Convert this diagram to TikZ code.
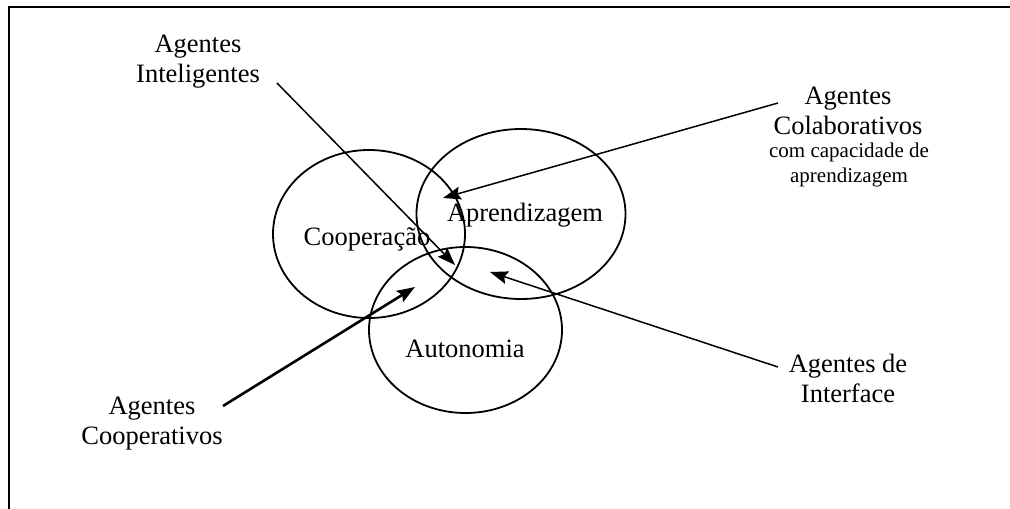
\documentclass[tikz,border=0pt]{standalone}
\usepackage{fontspec}
\setmainfont{Liberation Serif}
\usetikzlibrary{arrows.meta,shapes.geometric}
\begin{document}
\begin{tikzpicture}[x=1pt,y=-1pt,
  circ/.style={draw, ellipse, line width=1.8pt, inner sep=0pt},
  lbl/.style={font=\fontsize{26.5}{30}\selectfont, align=center, inner sep=0pt},
  smalllbl/.style={font=\fontsize{21}{25}\selectfont, align=center, inner sep=0pt},
  inlbl/.style={font=\fontsize{26.5}{30}\selectfont, inner sep=0pt, anchor=base},
  arr/.style={line width=1.5pt, -{Stealth[length=18pt,width=13pt,inset=3pt]}},
  frame/.style={line width=1.8pt}
]
\useasboundingbox (0,0) rectangle (1010,509);
% frame
\coordinate (fr1) at (1010,7);
\coordinate (fr2) at (9,7);
\coordinate (fr3) at (9,509);
\draw[frame] (fr1) -- (fr2) -- (fr3);

% ellipses
\node[circ, minimum width=192pt, minimum height=168pt] (coopE) at (369,234) {};
\node[circ, minimum width=209pt, minimum height=170pt] (aprE) at (521,214) {};
\node[circ, minimum width=193pt, minimum height=166pt] (autE) at (465.5,330) {};

% ellipse texts
\node[inlbl] (coopT) at (367,245) {Cooperação};
\node[inlbl] (aprT) at (525,221) {Aprendizagem};
\node[inlbl] (autT) at (465,357) {Autonomia};

% labels
\node[lbl] (intel) at (198,62) {Agentes\\Inteligentes};
\node[lbl] (colab) at (848,111) {Agentes\\Colaborativos};
\node[smalllbl] (colabsub) at (849,165) {com capacidade de\\aprendizagem};
\node[lbl] (interf) at (848,378) {Agentes de\\Interface};
\node[lbl] (coopA) at (152,424) {Agentes\\Cooperativos};

% arrow ends
\coordinate (intelS) at (277,83);
\coordinate (intelT) at (455,265);
\coordinate (colabS) at (778,103);
\coordinate (colabT) at (443,198);
\coordinate (interfS) at (778,367);
\coordinate (interfT) at (490,272);
\coordinate (coopS) at (223,406);
\coordinate (coopT2) at (415,287);

\draw[arr] (intelS) -- (intelT);
\draw[arr] (colabS) -- (colabT);
\draw[arr] (interfS) -- (interfT);
\draw[arr, line width=2.6pt] (coopS) -- (coopT2);
\end{tikzpicture}
\end{document}
